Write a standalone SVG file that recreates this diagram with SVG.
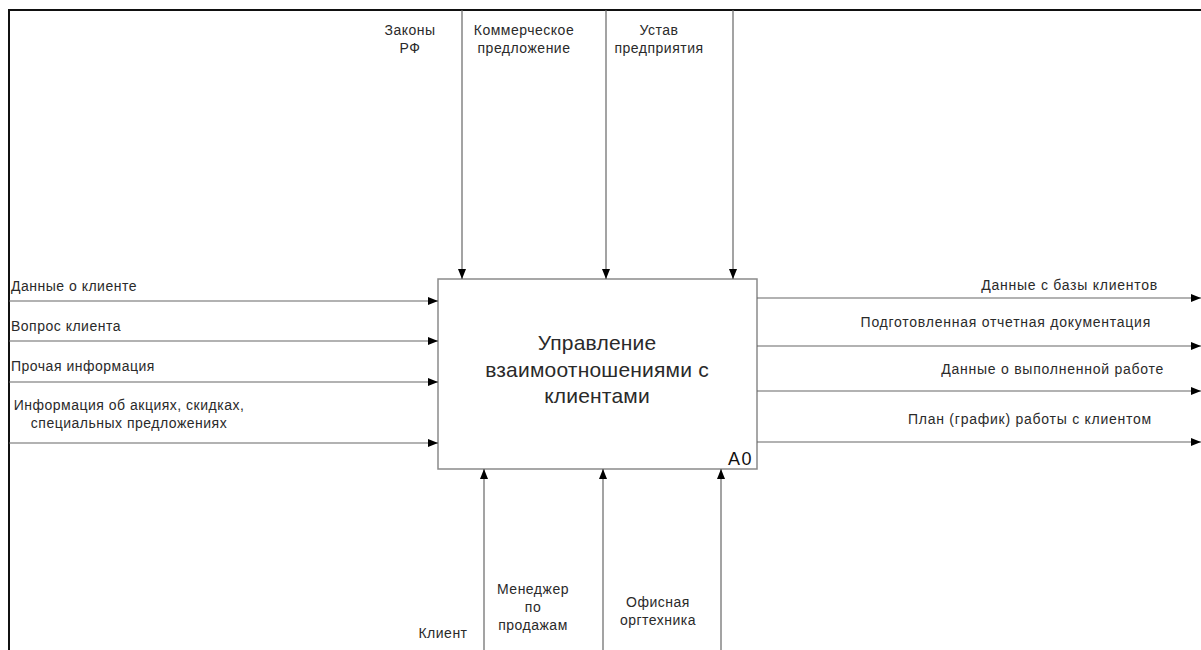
<svg xmlns="http://www.w3.org/2000/svg" width="1201" height="650" viewBox="0 0 1201 650">
  <style>
    .frame { stroke: #111; stroke-width: 2; fill: none; }
    .arrow { stroke: #666; stroke-width: 1.2; fill: none; marker-end: url(#head); }
    .box { fill: #fff; stroke: #8a8a8a; stroke-width: 1.5; }
    .lbl { font-family: "Liberation Sans", Arial, sans-serif; font-size: 14px; letter-spacing: 0.5px; fill: #2a2a2a; }
    .out { letter-spacing: 0.75px; text-anchor: end; }
    .title { font-family: "Liberation Sans", Arial, sans-serif; font-size: 21px; letter-spacing: 0.2px; fill: #2a2a2a; text-anchor: middle; }
    .num { font-family: "Liberation Sans", Arial, sans-serif; font-size: 18px; letter-spacing: 1.5px; fill: #111; text-anchor: end; }
    .mid { text-anchor: middle; }
  </style>
  <defs>
    <marker id="head" viewBox="0 0 10 8" refX="10" refY="4" markerWidth="10" markerHeight="8" markerUnits="userSpaceOnUse" orient="auto">
      <path d="M0,0 L10,4 L0,8 Z" fill="#000"/>
    </marker>
  </defs>

  <rect width="1201" height="650" fill="#fff"/>

  <!-- sheet frame -->
  <path class="frame" d="M9,650 L9,10 L1201,10"/>

  <!-- activity A0 -->
  <g id="a0">
    <rect class="box" x="438" y="279" width="319" height="190"/>
    <text class="title" x="597" y="350">Управление</text>
    <text class="title" x="597" y="377">взаимоотношениями с</text>
    <text class="title" x="597" y="403">клиентами</text>
    <text class="num" x="753" y="465">A0</text>
  </g>

  <!-- arrows -->
  <g id="connectors">
    <!-- controls -->
    <line class="arrow" x1="462" y1="10" x2="462" y2="279"/>
    <line class="arrow" x1="606" y1="10" x2="606" y2="279"/>
    <line class="arrow" x1="733" y1="10" x2="733" y2="279"/>
    <!-- inputs -->
    <line class="arrow" x1="9" y1="301" x2="438" y2="301"/>
    <line class="arrow" x1="9" y1="341" x2="438" y2="341"/>
    <line class="arrow" x1="9" y1="382" x2="438" y2="382"/>
    <line class="arrow" x1="9" y1="443" x2="438" y2="443"/>
    <!-- outputs -->
    <line class="arrow" x1="757" y1="298" x2="1201" y2="298"/>
    <line class="arrow" x1="757" y1="346" x2="1201" y2="346"/>
    <line class="arrow" x1="757" y1="391" x2="1201" y2="391"/>
    <line class="arrow" x1="757" y1="442" x2="1201" y2="442"/>
    <!-- mechanisms -->
    <line class="arrow" x1="484" y1="650" x2="484" y2="469"/>
    <line class="arrow" x1="603" y1="650" x2="603" y2="469"/>
    <line class="arrow" x1="721" y1="650" x2="721" y2="469"/>
  </g>

  <!-- arrow labels -->
  <g id="labels">
    <g id="lbl-laws">
      <text class="lbl mid" x="410" y="35">Законы</text>
      <text class="lbl mid" x="410" y="53">РФ</text>
    </g>
    <g id="lbl-offer">
      <text class="lbl mid" x="524" y="35">Коммерческое</text>
      <text class="lbl mid" x="524" y="53">предложение</text>
    </g>
    <g id="lbl-charter">
      <text class="lbl mid" x="659" y="35">Устав</text>
      <text class="lbl mid" x="659" y="53">предприятия</text>
    </g>

    <text class="lbl" x="11" y="291">Данные о клиенте</text>
    <text class="lbl" x="11" y="331">Вопрос клиента</text>
    <text class="lbl" x="11" y="371">Прочая информация</text>
    <text class="lbl mid" x="129" y="410">Информация об акциях, скидках,</text>
    <text class="lbl mid" x="129" y="428">специальных предложениях</text>

    <text class="lbl out" x="1158" y="290">Данные с базы клиентов</text>
    <text class="lbl out" x="1151" y="327">Подготовленная отчетная документация</text>
    <text class="lbl out" x="1164" y="374">Данные о выполненной работе</text>
    <text class="lbl out" x="1152" y="424">План (график) работы с клиентом</text>

    <text class="lbl mid" x="443" y="638">Клиент</text>
    <text class="lbl mid" x="533" y="594">Менеджер</text>
    <text class="lbl mid" x="533" y="612">по</text>
    <text class="lbl mid" x="533" y="630">продажам</text>
    <text class="lbl mid" x="658" y="607">Офисная</text>
    <text class="lbl mid" x="658" y="625">оргтехника</text>
  </g>
</svg>
